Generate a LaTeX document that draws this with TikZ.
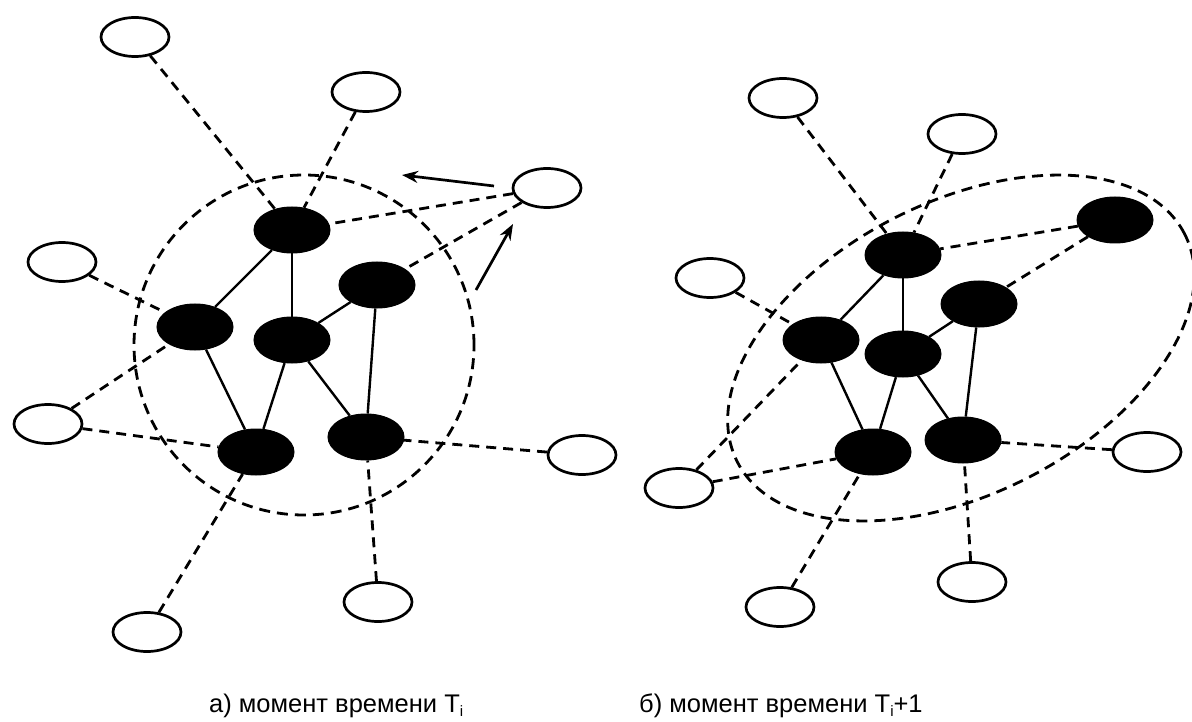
\documentclass[tikz,border=0pt]{standalone}
\usepackage{fontspec}
\setmainfont{Liberation Sans}
\usetikzlibrary{shapes.geometric,arrows.meta}
\begin{document}
\begin{tikzpicture}[x=1pt,y=1pt,
  outer/.style={ellipse,draw=black,line width=2.7pt,fill=white,minimum width=68pt,minimum height=39pt,inner sep=0pt},
  inner/.style={ellipse,draw=black,fill=black,line width=1pt,minimum width=76pt,minimum height=46pt,inner sep=0pt},
  solidlink/.style={draw=black,line width=2.4pt},
  dashlink/.style={draw=black,line width=2.8pt,dash pattern=on 10pt off 7pt},
  cluster/.style={draw=black,line width=2.8pt,dash pattern=on 11pt off 7pt},
  move/.style={draw=black,line width=2.7pt,-{Stealth[length=16pt,width=12pt]}},
  caption/.style={font=\fontsize{25.5}{28}\selectfont,anchor=base west,inner sep=0pt}
]
\useasboundingbox (0,0) rectangle (1192,-722);
\newcommand{\sub}[1]{\raisebox{-4pt}{\fontsize{15}{15}\selectfont #1}}

% ---------- (a) moment T_i ----------
\draw[cluster] (304,-345) ellipse [x radius=170, y radius=170];

\node[inner] (a1) at (292,-230) {};
\node[inner] (a2) at (195,-327) {};
\node[inner] (a3) at (292,-340) {};
\node[inner] (a4) at (377,-285) {};
\node[inner] (a5) at (256,-452) {};
\node[inner] (a6) at (366,-437) {};

\node[outer] (ao1) at (135,-37) {};
\node[outer] (ao2) at (366,-92) {};
\node[outer] (ao3) at (547,-188) {};
\node[outer] (ao4) at (62,-262) {};
\node[outer] (ao5) at (48,-424) {};
\node[outer] (ao6) at (582,-455) {};
\node[outer] (ao7) at (378,-602) {};
\node[outer] (ao8) at (147,-632) {};

\draw[solidlink] (a1) -- (a2);
\draw[solidlink] (a1) -- (a3);
\draw[solidlink] (a3) -- (a4);
\draw[solidlink] (a2) -- (a5);
\draw[solidlink] (a3) -- (a5);
\draw[solidlink] (a3) -- (a6);
\draw[solidlink] (a4) -- (a6);

\draw[dashlink] (ao1) -- (a1);
\draw[dashlink] (ao2) -- (a1);
\draw[dashlink] (ao3) -- (a1);
\draw[dashlink] (ao3) -- (a4);
\draw[dashlink] (ao4) -- (a2);
\draw[dashlink] (ao5) -- (a2);
\draw[dashlink] (ao5) -- (a5);
\draw[dashlink] (ao6) -- (a6);
\draw[dashlink] (ao7) -- (a6);
\draw[dashlink] (ao8) -- (a5);

% the node leaving the cluster
\coordinate (m1s) at (494,-186);
\coordinate (m1e) at (402,-175);
\coordinate (m2s) at (476,-290);
\coordinate (m2e) at (513,-224);
\draw[move] (m1s) -- (m1e);
\draw[move] (m2s) -- (m2e);

% ---------- (b) moment T_i+1 ----------
\draw[cluster] (961,-348) ellipse [x radius=251, y radius=146, rotate=27];

\node[inner] (b1) at (903,-255) {};
\node[inner] (b2) at (821,-340) {};
\node[inner] (b3) at (903,-354) {};
\node[inner] (b4) at (979,-304) {};
\node[inner] (b5) at (873,-452) {};
\node[inner] (b6) at (963,-440) {};
\node[inner] (b7) at (1115,-220) {};

\node[outer] (bo1) at (783,-98) {};
\node[outer] (bo2) at (962,-134) {};
\node[outer] (bo3) at (710,-278) {};
\node[outer] (bo4) at (679,-488) {};
\node[outer] (bo5) at (1147,-452) {};
\node[outer] (bo6) at (972,-582) {};
\node[outer] (bo7) at (780,-607) {};

\draw[solidlink] (b1) -- (b2);
\draw[solidlink] (b1) -- (b3);
\draw[solidlink] (b3) -- (b4);
\draw[solidlink] (b2) -- (b5);
\draw[solidlink] (b3) -- (b5);
\draw[solidlink] (b3) -- (b6);
\draw[solidlink] (b4) -- (b6);

\draw[dashlink] (bo1) -- (b1);
\draw[dashlink] (bo2) -- (b1);
\draw[dashlink] (b7) -- (b1);
\draw[dashlink] (b7) -- (b4);
\draw[dashlink] (bo3) -- (b2);
\draw[dashlink] (bo4) -- (b2);
\draw[dashlink] (bo4) -- (b5);
\draw[dashlink] (bo5) -- (b6);
\draw[dashlink] (bo6) -- (b6);
\draw[dashlink] (bo7) -- (b5);

% ---------- captions ----------
\node[caption] (capa) at (209,-712) {а) момент времени T\sub{i}};
\node[caption] (capb) at (639,-712) {б) момент времени T\sub{i}+1};
\end{tikzpicture}
\end{document}
